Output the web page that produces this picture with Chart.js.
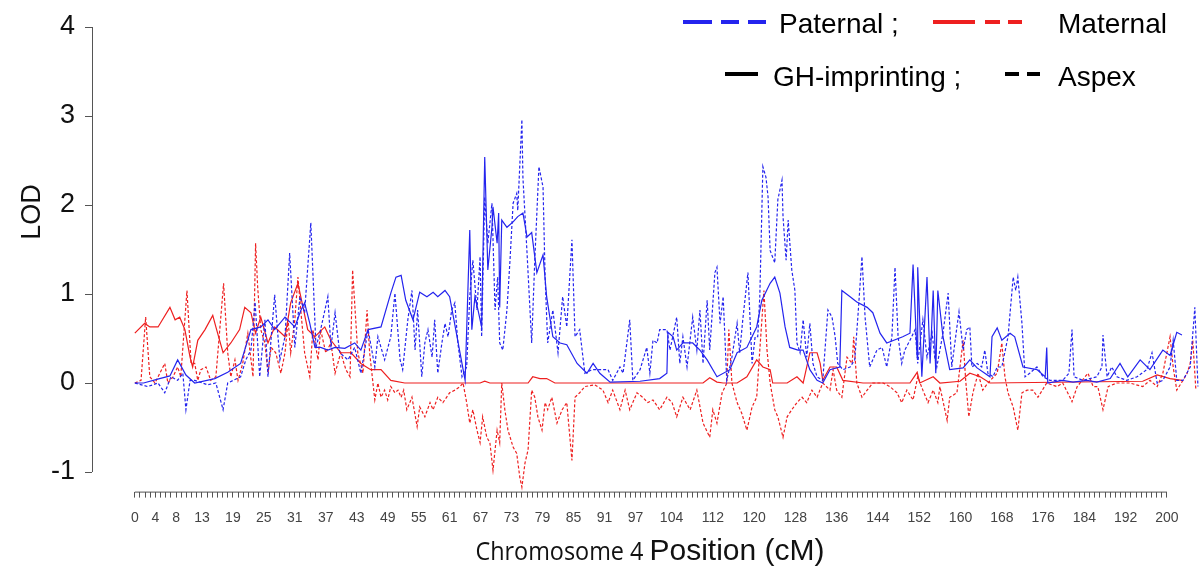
<!DOCTYPE html>
<html>
<head>
<meta charset="utf-8">
<title>LOD chromosome 4</title>
<script src="https://cdn.jsdelivr.net/npm/chart.js@4.4.1/dist/chart.umd.min.js"></script>
<style>
  html, body { margin: 0; padding: 0; background: #fff; }
  #wrap { width: 1204px; height: 569px; }
</style>
</head>
<body>
<div id="wrap"><canvas id="lod" width="1204" height="569"></canvas></div>
<script>
// tick labels along the chromosome (cM) and LOD ticks
const xTickLabels = [0, 4, 8, 13, 19, 25, 31, 37, 43, 49, 55, 61, 67, 73, 79, 85, 91, 97,
  104, 112, 120, 128, 136, 144, 152, 160, 168, 176, 184, 192, 200];
const yTickValues = [-1, 0, 1, 2, 3, 4];

// paternal, GH-imprinting (solid blue)
const patGhPos = [0.0, 1.7, 4.8, 6.8, 8.3, 9.9, 11.6, 15.5, 18.0, 20.5,
  22.5, 24.4, 25.8, 27.1, 29.1, 31.0, 32.2, 32.9, 33.9, 34.9,
  36.0, 37.4, 38.8, 40.7, 42.6, 43.8, 45.2, 47.7, 49.6, 50.6,
  51.6, 52.5, 53.9, 55.2, 56.6, 57.8, 58.7, 60.1, 61.0, 64.0,
  64.9, 65.3, 65.9, 66.5, 67.2, 67.8, 68.4, 69.2, 69.4, 70.2,
  70.5, 70.7, 71.1, 72.1, 73.3, 74.2, 75.2, 76.0, 76.9, 77.9,
  79.1, 79.8, 81.0, 82.4, 83.7, 85.7, 87.6, 88.8, 90.1, 92.1,
  97.9, 101.7, 103.1, 103.3, 104.3, 105.0, 106.2, 108.1, 109.5, 110.9,
  112.8, 115.3, 116.7, 118.6, 120.5, 121.5, 123.1, 124.0, 125.0, 126.0,
  126.9, 128.5, 129.5, 130.8, 132.2, 133.3, 134.7, 136.6, 137.0, 138.6,
  139.9, 141.9, 143.0, 144.4, 145.7, 148.8, 150.2, 150.8, 151.6, 151.7,
  152.5, 153.5, 154.1, 154.7, 155.2, 155.6, 156.6, 157.9, 160.5, 161.8,
  163.2, 165.7, 166.1, 167.1, 168.0, 169.6, 170.5, 172.1, 174.8, 176.4,
  176.7, 176.9, 179.8, 181.8, 184.5, 186.4, 189.0, 190.9, 192.4, 194.8,
  196.7, 199.2, 200.6, 201.9, 202.9];
const patGhLod = [0, 0, 0.05, 0.08, 0.26, 0.09, 0, 0.05, 0.12, 0.22,
  0.6, 0.63, 0.71, 0.6, 0.74, 0.63, 0.82, 0.9, 0.67, 0.4,
  0.4, 0.37, 0.4, 0.39, 0.45, 0.37, 0.6, 0.63, 1.01, 1.19,
  1.21, 0.93, 0.71, 1.02, 0.97, 1.02, 0.97, 1.04, 0.97, 0.03,
  1.72, 0.6, 0.97, 0.82, 0.63, 2.54, 1.27, 1.75, 1.98, 1.57,
  1.91, 0.85, 1.83, 1.75, 1.81, 1.87, 1.91, 1.64, 1.69, 1.24,
  1.44, 0.97, 0.52, 0.45, 0.43, 0.22, 0.11, 0.22, 0.11, 0.01,
  0.02, 0.05, 0.11, 0.57, 0.52, 0.37, 0.45, 0.45, 0.37, 0.26,
  0.07, 0.15, 0.34, 0.4, 0.63, 0.93, 1.12, 1.19, 1.01, 0.63,
  0.4, 0.37, 0.37, 0.15, 0.03, 0, 0.15, 0.18, 1.04, 0.97,
  0.91, 0.85, 0.79, 0.56, 0.45, 0.52, 0.56, 1.33, 0.29, 1.3,
  0.07, 1.19, 0.22, 1.04, 0.11, 1.04, 0.52, 0.15, 0.17, 0.26,
  0.17, 0.07, 0.52, 0.62, 0.48, 0.56, 0.52, 0.18, 0.15, 0.07,
  0.4, 0, 0.03, 0.01, 0.03, 0.01, 0.05, 0.22, 0.07, 0.26,
  0.15, 0.37, 0.31, 0.57, 0.54];

// paternal, Aspex (dashed blue)
const patAsPos = [0.0, 2.5, 4.5, 5.8, 7.0, 8.3, 9.3, 9.9, 10.7, 11.6,
  14.1, 15.7, 17.1, 18.0, 20.5, 21.5, 22.5, 23.3, 24.2, 25.2,
  25.8, 27.1, 28.1, 29.1, 30.0, 31.0, 32.0, 32.9, 34.1, 35.1,
  36.0, 37.4, 38.0, 38.8, 39.7, 41.3, 42.6, 43.8, 45.2, 46.5,
  47.1, 48.4, 49.6, 50.4, 51.4, 51.9, 52.9, 53.7, 54.3, 54.8,
  55.6, 56.2, 56.8, 57.6, 58.1, 58.7, 59.5, 60.1, 60.7, 61.4,
  62.0, 62.6, 63.4, 64.3, 64.9, 65.5, 66.3, 66.9, 67.2, 67.8,
  68.4, 69.2, 69.8, 70.3, 70.7, 71.3, 72.1, 72.7, 73.3, 74.0,
  74.2, 75.0, 75.2, 76.0, 76.9, 77.5, 78.3, 79.1, 79.5, 80.0,
  81.0, 82.0, 82.9, 83.7, 84.7, 85.3, 86.2, 87.2, 88.6, 90.1,
  91.7, 92.6, 94.0, 94.6, 95.9, 96.5, 97.9, 99.2, 99.8, 100.4,
  101.2, 101.7, 103.1, 103.7, 105.0, 105.6, 106.2, 107.0, 108.1, 108.9,
  109.5, 110.1, 110.9, 111.4, 112.4, 112.8, 113.4, 114.0, 114.7, 115.7,
  116.7, 117.2, 117.8, 118.8, 119.6, 120.2, 120.7, 121.1, 121.7, 122.3,
  122.7, 123.1, 124.0, 124.6, 125.4, 125.6, 126.2, 126.6, 127.3, 127.9,
  128.3, 128.9, 129.5, 130.2, 130.8, 131.4, 132.2, 133.3, 134.3, 135.1,
  135.7, 136.2, 137.2, 138.6, 139.5, 140.1, 140.9, 141.5, 142.4, 143.8,
  144.8, 145.7, 146.7, 147.3, 147.9, 148.6, 149.2, 150.2, 151.2, 151.7,
  152.7, 153.5, 154.5, 155.0, 155.4, 156.6, 157.6, 158.3, 159.3, 159.7,
  160.5, 161.2, 161.8, 162.2, 163.2, 164.1, 164.7, 165.3, 166.3, 167.1,
  168.0, 169.2, 170.2, 170.7, 171.1, 171.9, 172.5, 173.4, 174.8, 176.0,
  177.3, 179.8, 181.0, 181.6, 182.0, 183.7, 186.4, 187.4, 187.6, 188.4,
  189.3, 190.3, 192.2, 194.2, 196.1, 197.1, 198.1, 199.2, 200.6, 201.2,
  201.9, 203.1, 204.5, 205.4, 206.0];
const patAsLod = [0, -0.04, 0, -0.11, 0.07, 0.03, 0.11, -0.3, 0.03, 0.03,
  -0.02, 0, -0.3, 0, 0.07, 0.26, 0.37, 0.91, 0.07, 0.71,
  0.07, 0.99, 0.26, 0.52, 1.46, 0.4, 0.97, 0.79, 1.8, 0.4,
  0.6, 0.97, 0.4, 0.79, 0.34, 0.26, 0.4, 0.11, 0.6, 0.18,
  0.52, 0.26, 0.52, 1.01, 0.26, 0.15, 0.71, 1.04, 0.37, 0.82,
  0.07, 0.45, 0.6, 0.29, 0.71, 0.11, 0.45, 0.67, 0.52, 0.82,
  0.9, 0.45, 0.07, 0.18, 0.97, 1.38, 0.82, 1.42, 0.52, 2.09,
  1.57, 2.02, 0.82, 1.19, 0.45, 0.37, 0.82, 1.38, 2.02, 2.13,
  1.94, 2.96, 2.31, 1.46, 0.45, 1.38, 2.43, 2.2, 1.19, 0.45,
  0.82, 0.34, 0.97, 0.63, 1.61, 0.52, 0.6, 0.11, 0.15, 0.15,
  0.15, 0.03, 0.18, 0.11, 0.71, 0.03, 0.15, 0.4, 0.11, 0.48,
  0.45, 0.6, 0.6, 0.37, 0.74, 0.22, 0.52, 0.18, 0.74, 0.37,
  0.82, 0.22, 0.93, 0.37, 1.24, 1.3, 0.67, 0.97, 0.03, 0.29,
  0.67, 0.34, 0.71, 1.24, 0.22, 0.52, 0.52, 0.97, 2.43, 2.31,
  2.09, 1.49, 1.35, 2.06, 2.28, 1.87, 1.38, 1.83, 1.27, 1.04,
  0.45, 0.34, 0.71, 0.29, 0.67, 0.22, 0.07, 0.03, 0.82, 0.74,
  0.52, 0.22, 0.15, 0.18, 0.26, 0.74, 1.42, 0.74, 0.18, 0.37,
  0.4, 0.18, 0.52, 1.3, 0.52, 0.22, 0.37, 0.48, 0.6, 0.22,
  0.71, 0.29, 0.56, 0.29, 0.18, 0.56, 1.01, 0.18, 0.63, 0.8,
  0.37, 0.6, 0.63, 0.18, 0.22, 0.18, 0.37, 0.11, 0.07, 0.18,
  0.18, 0.52, 1.19, 1.04, 1.19, 0.67, 0.07, 0.11, 0.18, 0.07,
  0.03, 0.03, 0.11, 0.6, 0.07, 0.03, 0.07, 0.18, 0.54, 0.07,
  0.18, 0.07, 0.03, 0.07, 0.15, 0.34, 0, 0.03, 0.18, 0.48,
  0.03, 0.03, 0.18, 0.85, -0.04];

// maternal, GH-imprinting (solid red)
const matGhPos = [0.0, 1.9, 2.9, 4.5, 6.8, 7.8, 8.7, 9.7, 10.7, 11.2,
  12.2, 13.6, 15.1, 15.7, 17.1, 18.6, 20.3, 21.3, 22.5, 23.4,
  24.4, 25.8, 27.1, 29.1, 30.2, 31.6, 32.6, 33.5, 34.9, 36.8,
  38.0, 39.9, 41.9, 43.8, 45.7, 47.7, 49.6, 52.3, 66.9, 67.8,
  68.8, 76.2, 77.1, 78.5, 79.8, 81.4, 110.1, 111.4, 112.8, 114.0,
  116.7, 118.6, 120.5, 121.7, 123.1, 123.6, 126.4, 128.3, 129.5, 130.8,
  132.2, 132.8, 133.3, 134.7, 136.0, 137.2, 141.1, 150.2, 151.6, 152.1,
  154.7, 156.0, 159.9, 161.8, 163.8, 165.7, 195.3, 198.1, 200.6, 202.9];
const matGhLod = [0.56, 0.67, 0.63, 0.63, 0.85, 0.71, 0.74, 0.6, 0.29, 0.18,
  0.48, 0.6, 0.76, 0.63, 0.34, 0.45, 0.6, 0.85, 0.79, 0.56,
  0.74, 0.45, 0.63, 0.52, 0.9, 1.12, 0.85, 0.6, 0.52, 0.63,
  0.48, 0.34, 0.34, 0.22, 0.15, 0.15, 0.03, 0, 0, 0.02,
  0, 0, 0.07, 0.05, 0.05, 0, 0, 0.06, 0.01, 0,
  0, 0.07, 0.26, 0.18, 0.15, 0, 0, 0.07, 0, 0.34,
  0.34, 0.22, 0.03, 0.18, 0.18, 0.03, 0, 0, 0.12, 0,
  0.07, 0, 0.02, 0.11, 0.07, 0, 0.02, 0.09, 0.05, 0.03];

// maternal, Aspex (dashed red)
const matAsPos = [0.0, 1.2, 2.1, 2.9, 3.9, 5.8, 6.4, 7.4, 8.3, 8.9,
  10.1, 10.9, 11.6, 12.2, 12.8, 13.8, 14.7, 15.7, 17.2, 18.0,
  18.6, 19.4, 20.0, 20.9, 21.9, 22.9, 23.4, 23.8, 24.4, 25.2,
  25.8, 26.4, 27.3, 28.3, 29.1, 29.7, 30.2, 31.0, 31.6, 32.2,
  32.9, 33.9, 34.5, 35.5, 36.0, 37.0, 38.0, 38.8, 39.9, 40.9,
  41.7, 42.2, 43.2, 44.2, 45.0, 45.5, 46.5, 47.1, 47.7, 48.4,
  49.0, 49.6, 50.4, 51.0, 51.6, 52.1, 52.7, 53.7, 54.7, 55.2,
  56.2, 57.2, 57.8, 58.7, 59.7, 61.0, 62.0, 63.0, 63.6, 64.3,
  64.9, 65.5, 66.3, 66.9, 67.4, 68.2, 68.8, 69.4, 70.2, 70.7,
  71.1, 71.7, 72.3, 73.3, 74.0, 74.6, 75.0, 75.6, 76.2, 76.9,
  77.5, 78.1, 78.9, 79.5, 80.0, 80.8, 81.8, 82.8, 83.7, 84.7,
  85.3, 86.2, 87.2, 89.1, 90.7, 91.7, 92.6, 94.0, 95.0, 95.9,
  97.3, 98.4, 99.4, 100.4, 101.7, 103.1, 104.1, 105.0, 106.2, 107.6,
  108.9, 110.1, 111.4, 112.0, 112.8, 113.8, 114.7, 115.1, 115.7, 116.7,
  117.6, 118.6, 119.6, 120.5, 121.1, 121.9, 122.5, 123.1, 124.0, 124.6,
  125.6, 126.4, 127.3, 128.3, 129.3, 130.2, 131.2, 132.2, 133.3, 134.7,
  135.3, 136.0, 137.0, 138.0, 139.0, 139.3, 139.9, 140.9, 141.9, 143.0,
  145.0, 146.3, 147.7, 148.6, 149.6, 150.8, 151.7, 152.7, 153.7, 154.7,
  155.6, 156.0, 157.4, 157.9, 159.3, 160.5, 161.0, 161.6, 162.4, 163.4,
  164.3, 165.3, 167.1, 168.0, 168.6, 169.2, 170.2, 171.1, 171.9, 172.9,
  174.0, 175.0, 176.7, 178.7, 179.8, 181.2, 181.6, 182.6, 184.7, 185.7,
  186.6, 187.6, 188.6, 190.3, 192.8, 195.3, 196.7, 198.1, 199.2, 200.6,
  201.2, 201.9, 203.1, 203.9, 204.5, 205.0, 205.6];
const matAsLod = [0, 0.03, 0.74, 0.07, 0, 0.22, 0, 0.07, 0.18, 0.07,
  1.04, 0.22, 0.22, 0.03, 0.15, 0.18, 0.03, 0.07, 1.12, 0.34,
  0.07, 0.26, 0.03, 0.22, 0.56, 0.07, 1.57, 1.08, 0.6, 0.45,
  0.11, 0.4, 0.34, 0.11, 0.34, 0.71, 0.34, 0.71, 1.19, 0.79,
  0.34, 0.07, 0.6, 0.26, 0.6, 0.34, 0.45, 0.11, 0.34, 0.15,
  0.07, 1.27, 0.34, 0.11, 0.82, 0.34, -0.19, 0, -0.16, -0.08,
  -0.19, -0.04, -0.11, -0.08, -0.16, -0.08, -0.3, -0.16, -0.49, -0.27,
  -0.38, -0.22, -0.3, -0.16, -0.22, -0.11, -0.08, -0.04, 0, -0.22,
  -0.45, -0.3, -0.53, -0.67, -0.38, -0.61, -0.67, -0.98, -0.53, -0.67,
  0, -0.3, -0.53, -0.72, -0.79, -1.06, -1.17, -0.9, -0.75, -0.08,
  -0.16, -0.38, -0.53, -0.22, -0.3, -0.16, -0.45, -0.3, -0.22, -0.87,
  -0.16, -0.11, -0.04, -0.02, -0.08, -0.22, -0.08, -0.3, -0.08, -0.3,
  -0.11, -0.16, -0.22, -0.19, -0.3, -0.16, -0.22, -0.38, -0.16, -0.3,
  -0.08, -0.45, -0.61, -0.3, -0.45, -0.11, 0, 0.6, 0, -0.22,
  -0.34, -0.53, -0.27, -0.16, 0.37, 1.04, 0.37, 0, -0.3, -0.38,
  -0.61, -0.38, -0.3, -0.22, -0.16, -0.22, -0.08, -0.16, 0, -0.08,
  0.15, -0.08, -0.16, 0.29, 0.22, 0.52, 0, -0.16, -0.08, 0,
  0, -0.04, -0.11, -0.22, -0.08, -0.19, 0.07, -0.08, -0.22, -0.08,
  -0.22, -0.04, -0.42, -0.16, -0.11, 0.48, 0.03, -0.38, -0.11, 0.11,
  -0.08, 0, 0.11, 0.45, 0.07, -0.11, -0.27, -0.53, -0.11, -0.08,
  -0.08, -0.16, 0, -0.04, 0, -0.16, -0.21, -0.04, 0.11, -0.04,
  -0.04, -0.3, -0.04, 0, 0, -0.04, 0.03, -0.04, 0.11, 0.52,
  0.18, -0.08, 0.03, 0.11, 0.22, 0.48, -0.08];

const BLUE = '#2424ee';
const RED = '#ee2020';
const FONT = '"Liberation Sans", Arial, sans-serif';

// every cM gets a small tick on the comb below the plot
const combTicks = [];
for (let v = 0; v <= 200; v++) combTicks.push(v);

function points(pos, lod) {
  return pos.map((x, i) => ({ x: x, y: lod[i] }));
}

function series(label, pos, lod, color, dashed) {
  return {
    label: label,
    data: points(pos, lod),
    borderColor: color,
    borderWidth: 1.2,
    borderDash: dashed ? [3, 2] : [],
    pointRadius: 0,
    tension: 0,
    fill: false,
  };
}

// y axis line (only -1..4), comb line, axis titles and the legend
const decor = {
  id: 'decor',
  afterDraw(chart) {
    const { ctx, chartArea, scales } = chart;
    const x = scales.x, y = scales.y;
    ctx.save();
    ctx.strokeStyle = '#555';
    ctx.lineWidth = 1;
    ctx.beginPath();
    ctx.moveTo(chartArea.left + 0.5, y.getPixelForValue(yTickValues[0]));
    ctx.lineTo(chartArea.left + 0.5, y.getPixelForValue(yTickValues[yTickValues.length - 1]));
    ctx.moveTo(x.getPixelForValue(combTicks[0]), chartArea.bottom + 0.5);
    ctx.lineTo(x.getPixelForValue(combTicks[combTicks.length - 1]), chartArea.bottom + 0.5);
    ctx.stroke();

    ctx.fillStyle = '#111';
    // LOD
    ctx.save();
    ctx.translate(40, 212);
    ctx.rotate(-Math.PI / 2);
    ctx.font = '27px ' + FONT;
    ctx.textAlign = 'center';
    ctx.textBaseline = 'alphabetic';
    ctx.fillText('LOD', 0, 0);
    ctx.restore();

    // x title, two fonts; the first part is a little condensed
    const t1 = 'Chromosome 4 ', t2 = 'Position (cM)';
    const f1 = '26px "Open Sans", sans-serif', f2 = '30px ' + FONT;
    const squeeze = 0.9;
    ctx.textBaseline = 'alphabetic';
    ctx.textAlign = 'left';
    ctx.font = f1;
    const w1 = ctx.measureText(t1).width * squeeze;
    ctx.font = f2;
    const w2 = ctx.measureText(t2).width;
    const x0 = 650 - (w1 + w2) / 2;
    ctx.save();
    ctx.translate(x0, 560);
    ctx.scale(squeeze, 1);
    ctx.font = f1;
    ctx.fillText(t1, 0, 0);
    ctx.restore();
    ctx.font = f2;
    ctx.fillText(t2, x0 + w1, 560);

    // legend
    function seg(x1, x2, yy, color) {
      ctx.strokeStyle = color;
      ctx.lineWidth = 4;
      ctx.beginPath();
      ctx.moveTo(x1, yy);
      ctx.lineTo(x2, yy);
      ctx.stroke();
    }
    seg(683, 712, 22, BLUE);
    seg(721, 739, 22, BLUE);
    seg(748, 766, 22, BLUE);
    seg(933, 975, 22, RED);
    seg(985, 1000, 22, RED);
    seg(1008, 1022, 22, RED);
    seg(725, 758, 74, '#000');
    seg(1005, 1019, 74, '#000');
    seg(1027, 1040, 74, '#000');
    ctx.fillStyle = '#000';
    ctx.font = '28px ' + FONT;
    ctx.fillText('Paternal ;', 779, 33);
    ctx.fillText('Maternal', 1058, 33);
    ctx.fillText('GH-imprinting ;', 773, 86);
    ctx.fillText('Aspex', 1058, 86);
    ctx.restore();
  }
};

new Chart(document.getElementById('lod'), {
  type: 'line',
  data: {
    datasets: [
      series('Paternal GH-imprinting', patGhPos, patGhLod, BLUE, false),
      series('Paternal Aspex', patAsPos, patAsLod, BLUE, true),
      series('Maternal GH-imprinting', matGhPos, matGhLod, RED, false),
      series('Maternal Aspex', matAsPos, matAsLod, RED, true),
    ],
  },
  options: {
    responsive: false,
    animation: false,
    devicePixelRatio: 1,
    layout: { padding: { top: 27, right: 4, left: 0, bottom: 0 } },
    plugins: {
      legend: { display: false },
      tooltip: { enabled: false },
    },
    scales: {
      x: {
        type: 'linear',
        min: -8.3,
        max: 206.4,
        afterBuildTicks: (s) => { s.ticks = combTicks.map((v) => ({ value: v })); },
        afterFit: (s) => { s.height = 77.4; },
        border: { display: false },
        grid: { drawOnChartArea: false, drawTicks: true, tickLength: 6, color: '#555' },
        ticks: {
          autoSkip: false,
          maxRotation: 0,
          minRotation: 0,
          padding: 12,
          color: '#444',
          font: { family: FONT, size: 14 },
          callback: (v) => (xTickLabels.includes(v) ? String(v) : ''),
        },
      },
      y: {
        min: -1.22,
        max: 4,
        afterBuildTicks: (s) => { s.ticks = yTickValues.map((v) => ({ value: v })); },
        afterFit: (s) => { s.width = 92; },
        border: { display: false },
        grid: { drawOnChartArea: false, drawTicks: true, tickLength: 7, color: '#555' },
        ticks: {
          padding: 10,
          color: '#111',
          font: { family: FONT, size: 27 },
          callback: (v) => String(v),
        },
      },
    },
  },
  plugins: [decor],
});
</script>
</body>
</html>
